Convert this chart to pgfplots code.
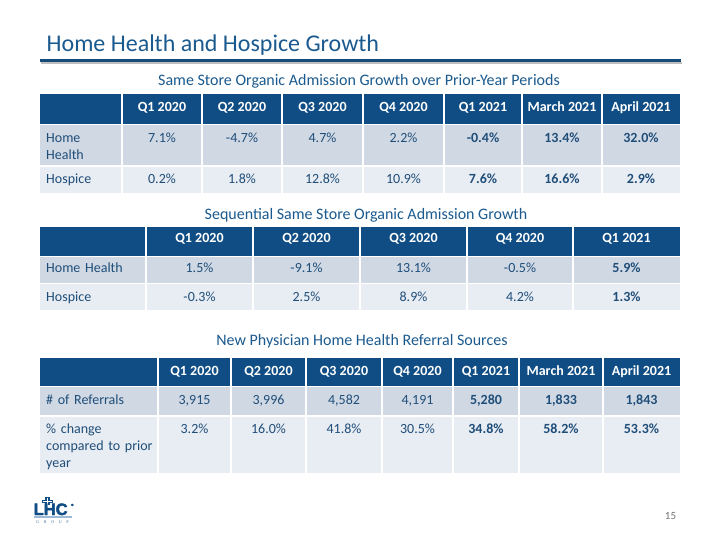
\documentclass[border=0pt]{standalone}
\usepackage{pgfplots}
\pgfplotsset{compat=1.18}
\usepackage{pgfplotstable}
\usepackage{fontspec}
\setmainfont{Carlito}
\newfontfamily\logofont[FakeBold=2.5]{Liberation Sans Bold}
\newfontfamily\logoserif{Liberation Serif}
\definecolor{hdr}{HTML}{0F4D84}
\definecolor{rowA}{HTML}{D0D8E4}
\definecolor{rowB}{HTML}{E8ECF3}
\definecolor{txt}{HTML}{1F4E79}
\definecolor{ttl}{HTML}{1B5A8F}
\definecolor{logolight}{HTML}{9DB9D6}

% Table 1: Same Store Organic Admission Growth over Prior-Year Periods
\pgfplotstableread[col sep=semicolon]{
x;head;hh;hs
162;Q1 2020;7.1\%;0.2\%
242;Q2 2020;-4.7\%;1.8\%
322.5;Q3 2020;4.7\%;12.8\%
403.5;Q4 2020;2.2\%;10.9\%
483;Q1 2021;-0.4\%;7.6\%
562;March 2021;13.4\%;16.6\%
641;April 2021;32.0\%;2.9\%
}\tA
\pgfplotstableread[col sep=semicolon]{
y;lab
142.5;Home Health
183.5;Hospice
}\tAlab

% Table 2: Sequential Same Store Organic Admission Growth
\pgfplotstableread[col sep=semicolon]{
x;head;hh;hs
199.5;Q1 2020;1.5\%;-0.3\%
306.5;Q2 2020;-9.1\%;2.5\%
413.5;Q3 2020;13.1\%;8.9\%
520;Q4 2020;-0.5\%;4.2\%
626.5;Q1 2021;5.9\%;1.3\%
}\tB
\pgfplotstableread[col sep=semicolon]{
y;lab
272.5;Home Health
301.5;Hospice
}\tBlab

% Table 3: New Physician Home Health Referral Sources
\pgfplotstableread[col sep=semicolon]{
x;head;ref;chg
194.5;Q1 2020;3,915;3.2\%
268.5;Q2 2020;3,996;16.0\%
344;Q3 2020;4,582;41.8\%
417.5;Q4 2020;4,191;30.5\%
486;Q1 2021;5,280;34.8\%
561;March 2021;1,833;58.2\%
641.5;April 2021;1,843;53.3\%
}\tC
\pgfplotstableread[col sep=semicolon]{
y;lab
404.5;\# of Referrals
433.5;\% change compared to prior year
}\tClab

\newcommand\cellfont{\fontsize{14bp}{16.8bp}\selectfont}
\newcommand\subfont{\fontsize{16bp}{19bp}\selectfont}

\begin{document}
\hyphenpenalty=10000 \exhyphenpenalty=10000 \relax
\begin{tikzpicture}
\begin{axis}[
  width=720bp, height=540bp, scale only axis,
  xmin=0, xmax=720, ymin=0, ymax=540, y dir=reverse,
  hide axis, clip=false,
  point meta=explicit symbolic,
  every axis plot/.append style={only marks, mark=none},
  nodes near coords={\pgfplotspointmeta},
  nodes near coords style={anchor=base, inner sep=0pt, font=\cellfont, text=txt},
  hdr/.style={nodes near coords style={text=white, font=\cellfont\bfseries}},
  bold/.style={nodes near coords style={font=\cellfont\bfseries}},
  lab/.style={nodes near coords style={anchor=base west, align=left}},
]
% background
\fill[white] (0,0) rectangle (720,540);

% title
\node[anchor=base west, inner sep=0pt, text=ttl, font=\fontsize{24bp}{28bp}\selectfont] at (46.5,52) {Home Health and Hospice Growth};
\draw[black!25, line width=1.5bp] (41,63.2) -- (682,63.2);
\draw[ttl!85!black, line width=3bp] (40,61) -- (681,61);

% subtitles
\node[anchor=base, inner sep=0pt, text=ttl, font=\subfont] at (359,86) {Same Store Organic Admission Growth over Prior-Year Periods};
\node[anchor=base, inner sep=0pt, text=ttl, font=\subfont] at (366,219.5) {Sequential Same Store Organic Admission Growth};
\node[anchor=base, inner sep=0pt, text=ttl, font=\subfont] at (362,345.5) {New Physician Home Health Referral Sources};

% ---- table 1 frame
\fill[hdr] (40,94) rectangle (680,124.5);
\fill[rowA] (40,124.5) rectangle (680,166);
\fill[rowB] (40,166) rectangle (680,193);
\draw[white, line width=1.8bp] (40,124.5) -- (680,124.5);
\draw[white, line width=1.5bp] (40,166) -- (680,166);
\pgfplotsinvokeforeach{122,202,282,363,444,522,602}{\draw[white, line width=1.3bp] (#1,94) -- (#1,193);}

% ---- table 2 frame
\fill[hdr] (40,227) rectangle (680,256.5);
\fill[rowA] (40,256.5) rectangle (680,283.5);
\fill[rowB] (40,283.5) rectangle (680,310);
\draw[white, line width=1.8bp] (40,256.5) -- (680,256.5);
\draw[white, line width=1.5bp] (40,283.5) -- (680,283.5);
\pgfplotsinvokeforeach{146,253,360,467,573}{\draw[white, line width=1.3bp] (#1,227) -- (#1,310);}

% ---- table 3 frame
\fill[hdr] (40,358) rectangle (680,386.5);
\fill[rowA] (40,386.5) rectangle (680,416);
\fill[rowB] (40,416) rectangle (680,473);
\draw[white, line width=1.8bp] (40,386.5) -- (680,386.5);
\draw[white, line width=1.5bp] (40,416) -- (680,416);
\pgfplotsinvokeforeach{158,231,306,382,453,519,603}{\draw[white, line width=1.3bp] (#1,358) -- (#1,473);}

% ---- table 1 contents
\addplot[hdr] table[x=x, y expr=112, meta=head] {\tA};
\addplot[restrict x to domain=0:450] table[x=x, y expr=142.5, meta=hh] {\tA};
\addplot[bold, restrict x to domain=450:720] table[x=x, y expr=142.5, meta=hh] {\tA};
\addplot[restrict x to domain=0:450] table[x=x, y expr=183.5, meta=hs] {\tA};
\addplot[bold, restrict x to domain=450:720] table[x=x, y expr=183.5, meta=hs] {\tA};
\addplot[lab, nodes near coords style={text width=66bp}] table[x expr=46, y=y, meta=lab] {\tAlab};

% ---- table 2 contents
\addplot[hdr] table[x=x, y expr=242.5, meta=head] {\tB};
\addplot[restrict x to domain=0:600] table[x=x, y expr=272.5, meta=hh] {\tB};
\addplot[bold, restrict x to domain=600:720] table[x=x, y expr=272.5, meta=hh] {\tB};
\addplot[restrict x to domain=0:600] table[x=x, y expr=301.5, meta=hs] {\tB};
\addplot[bold, restrict x to domain=600:720] table[x=x, y expr=301.5, meta=hs] {\tB};
\addplot[lab, nodes near coords style={text width=98bp}] table[x expr=46, y=y, meta=lab] {\tBlab};

% ---- table 3 contents
\addplot[hdr] table[x=x, y expr=375.5, meta=head] {\tC};
\addplot[restrict x to domain=0:450] table[x=x, y expr=404.5, meta=ref] {\tC};
\addplot[bold, restrict x to domain=450:720] table[x=x, y expr=404.5, meta=ref] {\tC};
\addplot[restrict x to domain=0:450] table[x=x, y expr=433.5, meta=chg] {\tC};
\addplot[bold, restrict x to domain=450:720] table[x=x, y expr=433.5, meta=chg] {\tC};
\addplot[lab, nodes near coords style={text width=108bp}] table[x expr=46, y=y, meta=lab] {\tClab};

% ---- logo
\fill[hdr] (45,496.5) rectangle (49.5,505);
\fill[hdr] (42,499.5) rectangle (52.5,503);
\draw[white, line width=0.6bp] (47.25,497.5) -- (47.25,504.5);
\draw[white, line width=0.6bp] (43,501.25) -- (51.5,501.25);
\node[anchor=base west, inner sep=0pt, text=hdr, font=\logofont\fontsize{16.5bp}{18bp}\selectfont] at (33.5,515) {LHC};
\node[anchor=base west, inner sep=0pt, text=hdr, font=\logofont\fontsize{3bp}{4bp}\selectfont] at (71,506) {\textregistered};
\fill[logolight] (33.5,516.3) rectangle (71.5,518);
\node[anchor=base, inner sep=0pt, text=hdr!80, font=\logoserif\fontsize{4.2bp}{5bp}\selectfont] at (52.5,523) {G\hspace{4.6bp}R\hspace{4.6bp}O\hspace{4.6bp}U\hspace{4.6bp}P};

% page number
\node[anchor=base, inner sep=0pt, text=black!55, font=\fontsize{11bp}{13bp}\selectfont] at (670.5,519) {15};
\end{axis}
\end{tikzpicture}
\end{document}
